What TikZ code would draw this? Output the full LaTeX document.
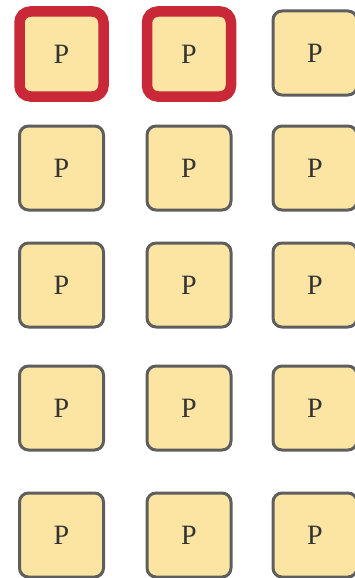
\documentclass[tikz,border=0pt]{standalone}
\usepackage{fontspec}
\setmainfont{Liberation Serif}
\definecolor{boxfill}{HTML}{FCE5A2}
\definecolor{boxgray}{HTML}{5E5E5E}
\definecolor{boxred}{HTML}{C82838}
\definecolor{ptext}{HTML}{333333}
\tikzset{
  pbox/.style={draw=boxgray, line width=3pt, fill=boxfill, rounded corners=9pt,
    minimum width=84pt, minimum height=84pt, inner sep=0pt, text=ptext,
    font=\fontsize{28pt}{28pt}\selectfont},
  redbox/.style={pbox, draw=boxred, line width=10.5pt, minimum width=84pt, minimum height=85pt, rounded corners=11pt}
}
\begin{document}
\begin{tikzpicture}[x=1pt,y=1pt]
\useasboundingbox (0,0) rectangle (355,-578);
\node[redbox] (p11) at (61.5,-54) {P};
\node[redbox] (p12) at (189,-54) {P};
\node[pbox] (p13) at (315,-53) {P};
\node[pbox] (p21) at (61.5,-168) {P};
\node[pbox] (p22) at (189,-168) {P};
\node[pbox] (p23) at (315,-168) {P};
\node[pbox] (p31) at (61.5,-285) {P};
\node[pbox] (p32) at (189,-285) {P};
\node[pbox] (p33) at (315,-285) {P};
\node[pbox] (p41) at (61.5,-408) {P};
\node[pbox] (p42) at (189,-408) {P};
\node[pbox] (p43) at (315,-408) {P};
\node[pbox] (p51) at (61.5,-535) {P};
\node[pbox] (p52) at (189,-535) {P};
\node[pbox] (p53) at (315,-535) {P};
\end{tikzpicture}
\end{document}
